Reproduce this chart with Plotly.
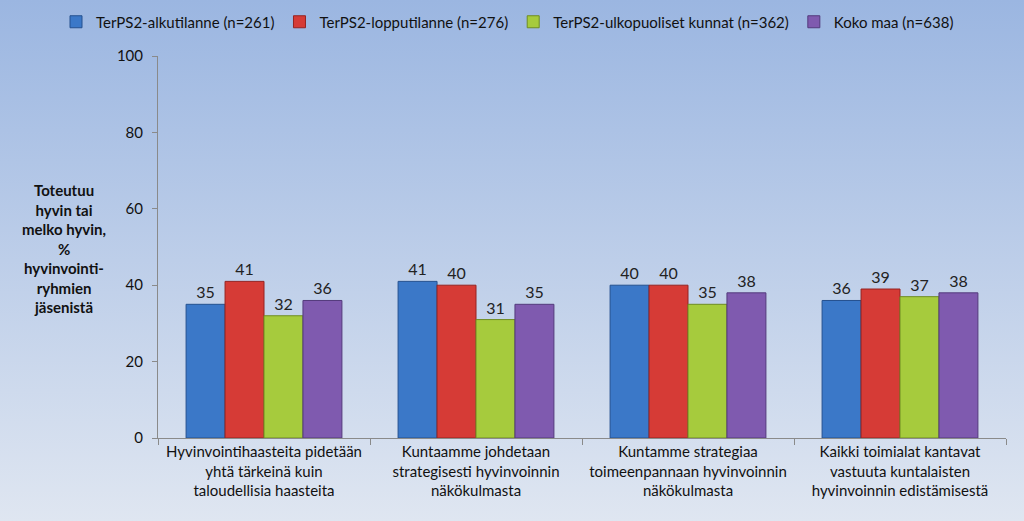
import base64
import plotly.graph_objects as go

categories = [
    "Hyvinvointihaasteita pidetään<br>yhtä tärkeinä kuin<br>taloudellisia haasteita",
    "Kuntaamme johdetaan<br>strategisesti hyvinvoinnin<br>näkökulmasta",
    "Kuntamme strategiaa<br>toimeenpannaan hyvinvoinnin<br>näkökulmasta",
    "Kaikki toimialat kantavat<br>vastuuta kuntalaisten<br>hyvinvoinnin edistämisestä",
]
series_names = [
    "TerPS2-alkutilanne (n=261)",
    "TerPS2-lopputilanne (n=276)",
    "TerPS2-ulkopuoliset kunnat (n=362)",
    "Koko maa (n=638)",
]
alku = [35, 41, 40, 36]
loppu = [41, 40, 40, 39]
ulko = [32, 31, 35, 37]
koko = [36, 35, 38, 38]
y_ticks = [0, 20, 40, 60, 80, 100]

colors = ["#3b78c8", "#d63b36", "#a6cb3d", "#7f5aaf"]
lines = ["#24508f", "#962320", "#6f8d22", "#533a7c"]

FONT = "Lato"

fig = go.Figure()
for name, vals, c, lc in zip(series_names, [alku, loppu, ulko, koko], colors, lines):
    fig.add_trace(go.Bar(
        name=name, x=categories, y=vals,
        marker=dict(color=c, line=dict(color=lc, width=1)),
        text=[str(v) for v in vals], textposition="outside",
        textfont=dict(size=16, color="#222222", family=FONT),
        cliponaxis=False,
    ))

svg = ('<svg xmlns="http://www.w3.org/2000/svg" width="1024" height="521">'
       '<defs><linearGradient id="g" x1="0" y1="0" x2="0" y2="1">'
       '<stop offset="0" stop-color="#9bb6e1"/><stop offset="1" stop-color="#dfe6f1"/>'
       '</linearGradient></defs><rect width="1024" height="521" fill="url(#g)"/></svg>')
src = "data:image/svg+xml;base64," + base64.b64encode(svg.encode()).decode()

L, R, T, B = 158, 18, 56, 83
W, H = 1024, 521
pw, ph = W - L - R, H - T - B

fig.add_layout_image(dict(
    source=src, xref="paper", yref="paper",
    x=-L / pw, y=1 + T / ph, sizex=W / pw, sizey=H / ph,
    xanchor="left", yanchor="top", sizing="stretch", layer="below",
))

fig.add_annotation(
    text="<b>Toteutuu<br>hyvin tai<br>melko hyvin,<br>%<br>hyvinvointi-<br>ryhmien<br>jäsenistä</b>",
    xref="paper", yref="paper", x=(64 - L) / pw, y=1 - (249 - T) / ph,
    xanchor="center", yanchor="middle", showarrow=False, align="center",
    font=dict(size=15, color="#111111", family=FONT),
)

fig.update_layout(
    width=W, height=H,
    margin=dict(l=L, r=R, t=T, b=B, autoexpand=False),
    paper_bgcolor="#c0cfe8", plot_bgcolor="rgba(0,0,0,0)",
    barmode="group", bargap=0.265, bargroupgap=0,
    font=dict(family=FONT, size=14, color="#111111"),
    legend=dict(orientation="h", x=(56 - L) / pw, xanchor="left", y=1 + (T - 22) / ph,
                yanchor="middle", font=dict(size=15, family=FONT),
                bgcolor="rgba(0,0,0,0)", itemwidth=30, traceorder="normal"),
    showlegend=True,
)
fig.update_xaxes(
    showline=True, linecolor="#8a8a8a", linewidth=1,
    ticks="outside", tickson="boundaries", ticklen=6, tickcolor="#8a8a8a",
    tickfont=dict(size=15, family=FONT, color="#111111"), showgrid=False,
)
fig.update_yaxes(
    range=[0, 100], tickvals=y_ticks, showline=True, linecolor="#8a8a8a", linewidth=1,
    ticks="outside", ticklen=5, tickcolor="#8a8a8a", showgrid=False, zeroline=False,
    tickfont=dict(size=15, family=FONT, color="#111111"), ticklabelstandoff=6,
)

fig.write_html("out.html", config={"displayModeBar": False},
               post_script="document.body.style.margin='0';document.body.style.overflow='hidden';")
